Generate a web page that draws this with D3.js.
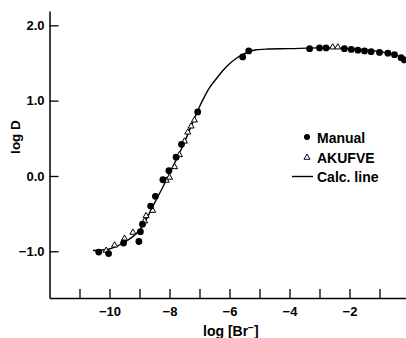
<!DOCTYPE html>
<html>
<head>
<meta charset="utf-8">
<script src="https://cdn.jsdelivr.net/npm/d3@7.9.0/dist/d3.min.js"></script>
<style>
  html, body { margin: 0; padding: 0; background: #fff; }
  svg { display: block; font-family: "Liberation Sans", Arial, sans-serif; font-weight: bold; }
</style>
</head>
<body>
<svg id="chart" width="406" height="338"></svg>
<script>
// calculated line (log D vs log [Br-])
const calcX = [-10.55, -10.0, -9.5, -9.0, -8.5, -8.0, -7.5, -7.09, -6.89, -6.67, -6.44, -6.22, -6.0, -5.78, -5.56, -5.33, -5.11, -4.72, -4.0, -3.0, -2.0, -1.0, -0.5, 0];
const calcY = [-0.99, -0.97, -0.88, -0.72, -0.36, 0.03, 0.45, 0.84, 1.01, 1.17, 1.29, 1.4, 1.49, 1.56, 1.61, 1.655, 1.675, 1.685, 1.69, 1.7, 1.69, 1.65, 1.61, 1.53];

// manual extraction points (filled circles)
const manualX = [-10.36, -10.03, -9.53, -9.02, -8.97, -8.9, -8.63, -8.47, -8.22, -8.02, -7.78, -7.6, -7.06, -5.56, -5.36, -3.33, -3.0, -2.78, -2.17, -1.94, -1.72, -1.5, -1.28, -1.0, -0.72, -0.5, -0.28, -0.17];
const manualY = [-1.01, -1.03, -0.89, -0.87, -0.74, -0.64, -0.4, -0.27, -0.05, 0.07, 0.25, 0.42, 0.85, 1.58, 1.66, 1.69, 1.7, 1.7, 1.69, 1.68, 1.67, 1.66, 1.65, 1.64, 1.63, 1.61, 1.57, 1.54];

// AKUFVE points (open triangles)
const akufveX = [-10.11, -9.83, -9.5, -9.22, -8.83, -8.78, -8.56, -8.11, -8.0, -7.83, -7.67, -7.5, -7.39, -7.28, -7.17, -2.56, -2.39];
const akufveY = [-0.99, -0.92, -0.83, -0.75, -0.6, -0.53, -0.46, -0.06, -0.02, 0.12, 0.28, 0.46, 0.58, 0.66, 0.74, 1.71, 1.71];

const xTicks = [-11, -10, -9, -8, -7, -6, -5, -4, -3, -2, -1, 0];
const xLabels = [-10, -8, -6, -4, -2];
const yTicks = [-1, 0, 1, 2];

const svg = d3.select('#chart');

const x = d3.scaleLinear().domain([-12, 0]).range([49.5, 409.5]);
const y = d3.scaleLinear().domain([-1.62, 2.19]).range([298, 11]);

const fmtMinus = s => s.replace('-', '\u2212');

// axes
const xAxis = d3.axisBottom(x)
  .tickValues(xTicks)
  .tickSize(-9)
  .tickSizeOuter(0)
  .tickPadding(9)
  .tickFormat(d => xLabels.includes(d) ? fmtMinus(String(d)) : '');

const yAxis = d3.axisLeft(y)
  .tickValues(yTicks)
  .tickSize(-9)
  .tickSizeOuter(0)
  .tickPadding(5)
  .tickFormat(d => fmtMinus(d3.format('.1f')(d)));

const gx = svg.append('g')
  .attr('transform', `translate(0,${y(-1.62)})`)
  .call(xAxis);

const gy = svg.append('g')
  .attr('transform', `translate(${x(-12)},0)`)
  .call(yAxis);

[gx, gy].forEach(g => {
  g.select('.domain').attr('stroke', '#000').attr('stroke-width', 1.5);
  g.selectAll('.tick line').attr('stroke', '#000').attr('stroke-width', 1.3);
  g.selectAll('.tick text')
    .attr('fill', '#000')
    .style('font-family', '"Liberation Sans", Arial, sans-serif')
    .style('font-weight', 'bold')
    .style('font-size', '13px');
});

// axis titles
svg.append('text')
  .attr('transform', 'translate(20,137) rotate(-90)')
  .attr('text-anchor', 'middle')
  .style('font-size', '13.5px')
  .text('log D');

const xt = svg.append('text')
  .attr('x', 203)
  .attr('y', 336)
  .style('font-size', '14px');
xt.append('tspan').text('log [Br');
xt.append('tspan').attr('dy', -5).style('font-size', '10px').text('\u2212');
xt.append('tspan').attr('dy', 5).text(']');

// calculated line
const line = d3.line()
  .x(d => x(d[0]))
  .y(d => y(d[1]))
  .curve(d3.curveCatmullRom.alpha(0.5));

svg.append('path')
  .datum(calcX.map((v, i) => [v, calcY[i]]))
  .attr('d', line)
  .attr('fill', 'none')
  .attr('stroke', '#000')
  .attr('stroke-width', 1.4);

// AKUFVE triangles
const tri = d3.symbol().type(d3.symbolTriangle).size(16);
svg.append('g').selectAll('path')
  .data(akufveX.map((v, i) => [v, akufveY[i]]))
  .join('path')
  .attr('d', tri)
  .attr('transform', d => `translate(${x(d[0])},${y(d[1])})`)
  .attr('fill', '#fff')
  .attr('stroke', '#000')
  .attr('stroke-width', 1);

// manual dots
svg.append('g').selectAll('circle')
  .data(manualX.map((v, i) => [v, manualY[i]]))
  .join('circle')
  .attr('cx', d => x(d[0]))
  .attr('cy', d => y(d[1]))
  .attr('r', 3.4)
  .attr('fill', '#000');

// legend
const legend = svg.append('g').style('font-size', '14px');
legend.append('circle').attr('cx', 307).attr('cy', 137).attr('r', 3).attr('fill', '#000');
legend.append('text').attr('x', 317).attr('y', 142.5).text('Manual');
legend.append('path')
  .attr('d', tri)
  .attr('transform', 'translate(307,157.5)')
  .attr('fill', '#fff')
  .attr('stroke', '#000')
  .attr('stroke-width', 1);
legend.append('text').attr('x', 317).attr('y', 162.5).text('AKUFVE');
legend.append('line')
  .attr('x1', 292).attr('x2', 313)
  .attr('y1', 176.5).attr('y2', 176.5)
  .attr('stroke', '#000').attr('stroke-width', 1.4);
legend.append('text').attr('x', 317).attr('y', 181.5).text('Calc. line');
</script>
</body>
</html>
